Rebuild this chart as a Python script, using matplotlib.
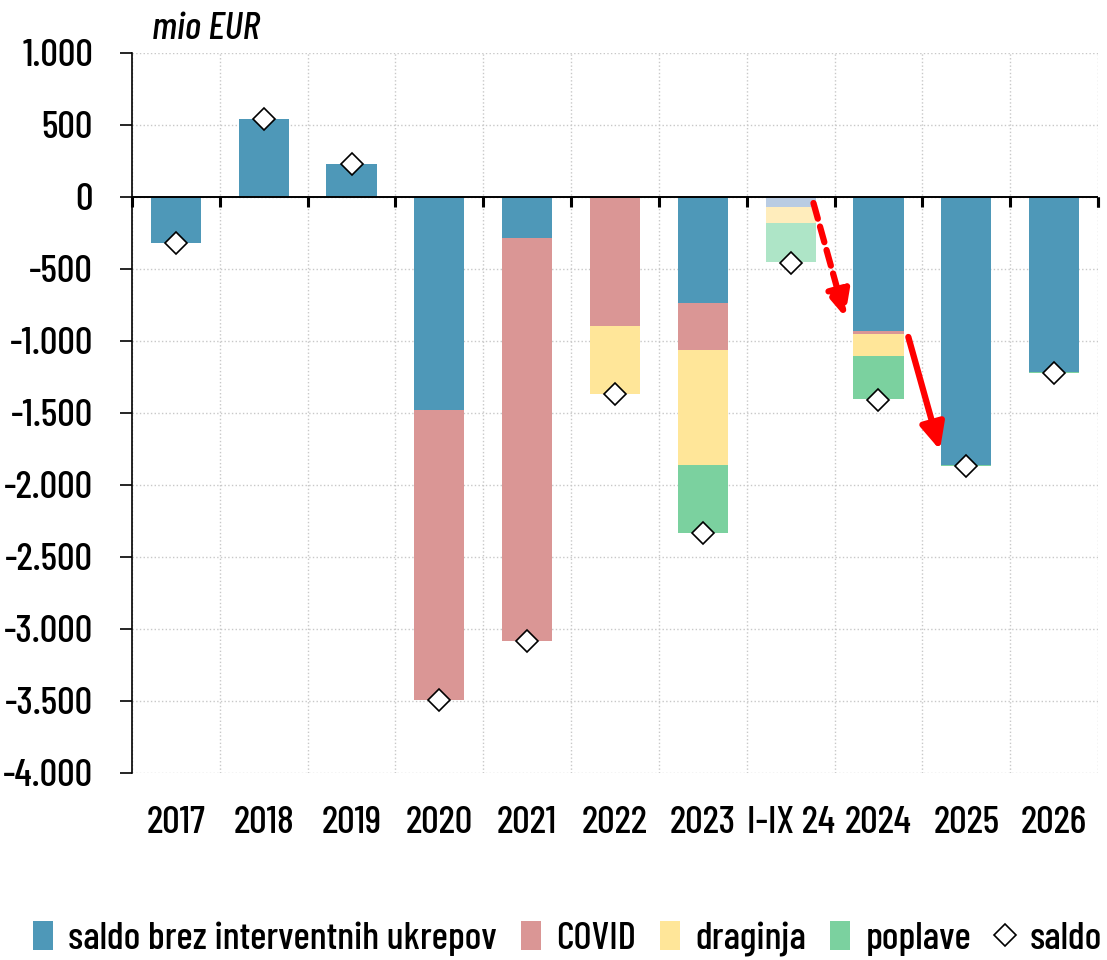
import matplotlib
matplotlib.use("Agg")
import matplotlib.pyplot as plt
from matplotlib import font_manager
from matplotlib.patches import Patch
from matplotlib.lines import Line2D
import numpy as np

# ---- data ----
categories = ['2017', '2018', '2019', '2020', '2021', '2022', '2023', 'I-IX 24', '2024', '2025', '2026']
saldo_brez = [-320, 540, 230, -1480, -285, 0, -736, -69, -931, -1860, -1213]
covid = [0, 0, 0, -2010, -2798, -896, -326, 0, -20, 0, 0]
draginja = [0, 0, 0, 0, 0, -472, -799, -112, -153, 0, 0]
poplave = [0, 0, 0, 0, 0, 0, -472, -270, -299, -5, -10]
saldo = [-320, 540, 230, -3490, -3083, -1368, -2333, -458, -1410, -1865, -1220]
yticks = [1000, 500, 0, -500, -1000, -1500, -2000, -2500, -3000, -3500, -4000]
series_names = ['saldo brez interventnih ukrepov', 'COVID', 'draginja', 'poplave']
saldo_name = 'saldo'
partial_category = 'I-IX 24'

# ---- font ----
names = {f.name for f in font_manager.fontManager.ttflist}
prefs = ['Barlow Condensed', 'Roboto Condensed', 'Archivo Narrow', 'Saira Condensed',
         'Sofia Sans Condensed', 'Encode Sans Condensed', 'Oswald', 'Liberation Sans Narrow']
FAM = next((p for p in prefs if p in names), 'DejaVu Sans')
plt.rcParams['font.family'] = [FAM, 'DejaVu Sans']
plt.rcParams['font.weight'] = 500
FS = 28

colors = ['#4E98B8', '#DA9695', '#FFE699', '#7BD19F']
pale_colors = ['#B9CCE3', '#EDCACA', '#FFEDBC', '#AEE5C7']

fig = plt.figure(figsize=(11.07, 9.6), dpi=100)
ax = fig.add_axes([0.1192, 0.1948, 0.8727, 0.75])

x = np.arange(len(categories))
series = [saldo_brez, covid, draginja, poplave]
bottom = np.zeros(len(categories))
width = 0.57
for k, vals in enumerate(series):
    vals = np.array(vals, dtype=float)
    cols = [pale_colors[k] if c == partial_category else colors[k] for c in categories]
    ax.bar(x, vals, width, bottom=bottom, color=cols, zorder=2, linewidth=0)
    bottom = bottom + vals

ax.plot(x, saldo, linestyle='none', marker='D', markersize=11.5,
        markerfacecolor='white', markeredgecolor='black', markeredgewidth=1.2, zorder=4)

ax.set_xlim(-0.5, len(categories) - 0.5)
ax.set_ylim(-4000, 1000)
ax.set_yticks(yticks)
ax.set_yticklabels([f"{v:,}".replace(',', '.') for v in yticks], fontsize=FS)
ax.tick_params(axis='y', length=9, width=1.2, pad=19)

ax.set_xticks(x)
ax.set_xticklabels(categories, fontsize=FS)
ax.tick_params(axis='x', length=0, pad=24)
boundaries = np.arange(-0.5, len(categories))
ax.set_xticks(boundaries, minor=True)
ax.tick_params(axis='x', which='minor', length=0)

ax.grid(True, axis='y', which='major', linestyle=':', color='#C8C8C8', linewidth=1, zorder=0)
ax.grid(True, axis='x', which='minor', linestyle=':', color='#C8C8C8', linewidth=1, zorder=0)

for s in ['top', 'right', 'bottom']:
    ax.spines[s].set_visible(False)
ax.spines['left'].set_linewidth(1.2)

# zero axis with boundary ticks (category separators hanging below the zero line)
ax.axhline(0, color='black', linewidth=1.4, zorder=3)
tick_len = 10 / 144 * 1000  # 10 px in data units
ax.vlines(np.append(boundaries, len(categories) - 0.5), -tick_len, 0, color='black',
          linewidth=2.2, zorder=3, clip_on=False)

# arrows (annotations)
astyle = '-|>,head_length=0.6,head_width=0.28'
ax.annotate('', xy=(7.62, -833), xytext=(7.26, -42),
            arrowprops=dict(arrowstyle=astyle, color='red', lw=4.5, linestyle=(0, (2.6, 1.3)),
                            mutation_scale=26, shrinkA=0, shrinkB=0), zorder=5)
ax.annotate('', xy=(8.70, -1757), xytext=(8.34, -972),
            arrowprops=dict(arrowstyle=astyle, color='red', lw=4.5,
                            mutation_scale=26, shrinkA=0, shrinkB=0), zorder=5)

# unit label
fig.text(0.137, 0.97, 'mio EUR', fontsize=FS, style='italic', ha='left', va='center')

handles = [Patch(facecolor=c, edgecolor='none') for c in colors]
handles.append(Line2D([], [], linestyle='none', marker='D', markersize=11.5,
                      markerfacecolor='white', markeredgecolor='black', markeredgewidth=1.2))
leg = fig.legend(handles, series_names + [saldo_name], loc='center', bbox_to_anchor=(0.513, 0.022),
                 ncol=5, frameon=False, fontsize=FS, handlelength=0.5, handleheight=0.75,
                 handletextpad=0.4, columnspacing=0.62, borderpad=0, borderaxespad=0)

fig.savefig('out.png', dpi=100)
